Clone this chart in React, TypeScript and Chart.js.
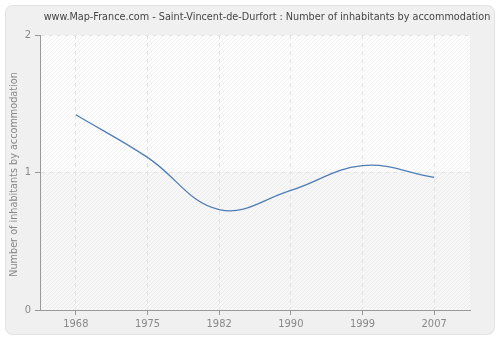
import React, { useEffect, useRef } from "react";
import { Chart, registerables } from "chart.js";

Chart.register(...registerables);

const titleText =
  "www.Map-France.com - Saint-Vincent-de-Durfort : Number of inhabitants by accommodation";
const yAxisTitle = "Number of inhabitants by accommodation";
const years = ["1968", "1975", "1982", "1990", "1999", "2007"];
const inhabitantsPerAccommodation = [1.42, 1.11, 0.73, 0.87, 1.05, 0.965];
const yTickValues = [0, 1, 2];

const FONT = "'DejaVu Sans Condensed', 'DejaVu Sans', sans-serif";

const backgroundPlugin = {
  id: "bgPlugin",
  beforeDraw(chart: any) {
    const { ctx, width, height, chartArea } = chart;
    ctx.save();
    ctx.fillStyle = "#ffffff";
    ctx.fillRect(0, 0, width, height);
    // rounded panel
    const x = 5.5, y = 5.5, w = width - 11, h = height - 11, r = 8;
    ctx.beginPath();
    ctx.moveTo(x + r, y);
    ctx.lineTo(x + w - r, y);
    ctx.quadraticCurveTo(x + w, y, x + w, y + r);
    ctx.lineTo(x + w, y + h - r);
    ctx.quadraticCurveTo(x + w, y + h, x + w - r, y + h);
    ctx.lineTo(x + r, y + h);
    ctx.quadraticCurveTo(x, y + h, x, y + h - r);
    ctx.lineTo(x, y + r);
    ctx.quadraticCurveTo(x, y, x + r, y);
    ctx.closePath();
    ctx.fillStyle = "#f0f0f0";
    ctx.fill();
    ctx.strokeStyle = "#e2e2e2";
    ctx.lineWidth = 1;
    ctx.stroke();

    // plot area
    const { left, top, right, bottom } = chartArea;
    const yScale = chart.scales.y;
    const mid = yScale.getPixelForValue(1);
    ctx.fillStyle = "#fdfdfd";
    ctx.fillRect(left, top, right - left, mid - top);
    ctx.fillStyle = "#f7f7f7";
    ctx.fillRect(left, mid, right - left, bottom - mid);
    ctx.beginPath();
    ctx.rect(left, top, right - left, bottom - top);
    ctx.clip();
    ctx.strokeStyle = "rgba(0,0,0,0.045)";
    ctx.lineWidth = 1;
    ctx.beginPath();
    const hgt = bottom - top;
    for (let s = left - hgt; s < right + hgt; s += 4) {
      ctx.moveTo(s, bottom);
      ctx.lineTo(s + hgt, top);
    }
    ctx.stroke();
    ctx.restore();
  },
  afterDraw(chart: any) {
    const { ctx, chartArea } = chart;
    ctx.save();
    ctx.fillStyle = "#444444";
    ctx.font = `10.75px ${FONT}`;
    ctx.textAlign = "center";
    ctx.textBaseline = "middle";
    ctx.fillText(titleText, 267, 17);
    ctx.translate(14, (chartArea.top + chartArea.bottom) / 2 + 2);
    ctx.rotate(-Math.PI / 2);
    ctx.fillStyle = "#888888";
    ctx.fillText(yAxisTitle, 0, 0);
    ctx.restore();
  },
};

export default function App() {
  const canvasRef = useRef<HTMLCanvasElement | null>(null);

  useEffect(() => {
    document.body.style.margin = "0";
    const canvas = canvasRef.current;
    if (!canvas) return;
    const chart = new Chart(canvas, {
      type: "line",
      data: {
        labels: years,
        datasets: [
          {
            data: inhabitantsPerAccommodation,
            borderColor: "#4f7db5",
            borderWidth: 1.3,
            pointRadius: 0,
            tension: 0.4,
            fill: false,
          },
        ],
      },
      options: {
        responsive: false,
        animation: false,
        devicePixelRatio: 1,
        layout: { padding: { top: 35, right: 30, left: 0, bottom: 0 } },
        plugins: {
          legend: { display: false },
          title: { display: false },
          tooltip: { enabled: false },
        },
        scales: {
          x: {
            type: "category",
            offset: true,
            afterFit: (s: any) => {
              s.height = 30;
            },
            grid: {
              offset: false,
              color: "#e3e3e3",
              tickColor: "#999999",
              tickLength: 5,
              drawTicks: true,
            },
            border: { color: "#999999", width: 1, dash: [4, 4] },
            ticks: {
              color: "#888888",
              font: { family: FONT, size: 11 },
              padding: 3,
              maxRotation: 0,
            },
          },
          y: {
            min: 0,
            max: 2,
            afterFit: (s: any) => {
              s.width = 40;
            },
            afterBuildTicks: (s: any) => {
              s.ticks = yTickValues.map((v) => ({ value: v }));
            },
            grid: {
              color: "#e3e3e3",
              tickColor: "#999999",
              tickLength: 5,
            },
            border: { color: "#999999", width: 1, dash: [4, 4] },
            ticks: {
              color: "#888888",
              font: { family: FONT, size: 11 },
              padding: 4,
            },
          },
        },
      },
      plugins: [backgroundPlugin],
    });
    return () => chart.destroy();
  }, []);

  return (
    <div style={{ width: 500, height: 340 }}>
      <canvas ref={canvasRef} width={500} height={340} />
    </div>
  );
}
